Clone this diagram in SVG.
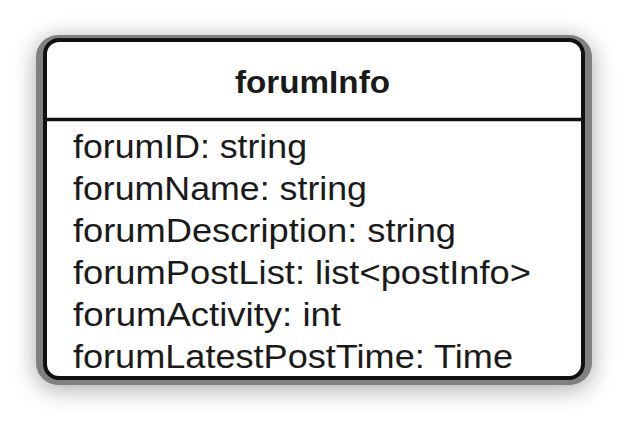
<svg xmlns="http://www.w3.org/2000/svg" width="630" height="422" viewBox="0 0 630 422">
  <style>
    .attr { font-family: "Liberation Sans", Arial, sans-serif; font-size: 33px; fill: #1a1a1a; }
    .title { font-family: "Liberation Sans", Arial, sans-serif; font-size: 32px; font-weight: bold; fill: #1a1a1a; }
  </style>
  <defs>
    <filter id="shadow" x="-20%" y="-30%" width="140%" height="160%">
      <feGaussianBlur in="SourceAlpha" stdDeviation="12"/>
      <feOffset dx="0" dy="4" result="b"/>
      <feComponentTransfer><feFuncA type="linear" slope="0.35"/></feComponentTransfer>
      <feMerge><feMergeNode/><feMergeNode in="SourceGraphic"/></feMerge>
    </filter>
    <clipPath id="frame"><rect x="36" y="35" width="556" height="350" rx="22" ry="22"/></clipPath>
  </defs>
  <rect width="630" height="422" fill="#ffffff"/>
  <g id="forumInfo">
    <rect x="36" y="35" width="556" height="350" rx="22" ry="22" fill="#808080" filter="url(#shadow)"/>
    <g clip-path="url(#frame)">
      <rect x="45" y="40" width="538" height="338" rx="14" ry="14" fill="#ffffff" stroke="#111111" stroke-width="4"/>
      <line x1="45" y1="119.5" x2="583" y2="119.5" stroke="#111111" stroke-width="3.5"/>
    </g>
    <text class="title" x="312.5" y="93" text-anchor="middle" textLength="155" lengthAdjust="spacingAndGlyphs">forumInfo</text>
    <text class="attr" x="73" y="158" textLength="234" lengthAdjust="spacingAndGlyphs">forumID: string</text>
    <text class="attr" x="73" y="200" textLength="294" lengthAdjust="spacingAndGlyphs">forumName: string</text>
    <text class="attr" x="73" y="242" textLength="383" lengthAdjust="spacingAndGlyphs">forumDescription: string</text>
    <text class="attr" x="73" y="284" textLength="458" lengthAdjust="spacingAndGlyphs">forumPostList: list&lt;postInfo&gt;</text>
    <text class="attr" x="73" y="326" textLength="268" lengthAdjust="spacingAndGlyphs">forumActivity: int</text>
    <text class="attr" x="73" y="368" textLength="440" lengthAdjust="spacingAndGlyphs">forumLatestPostTime: Time</text>
  </g>
  <g id="connectors"/>
</svg>
